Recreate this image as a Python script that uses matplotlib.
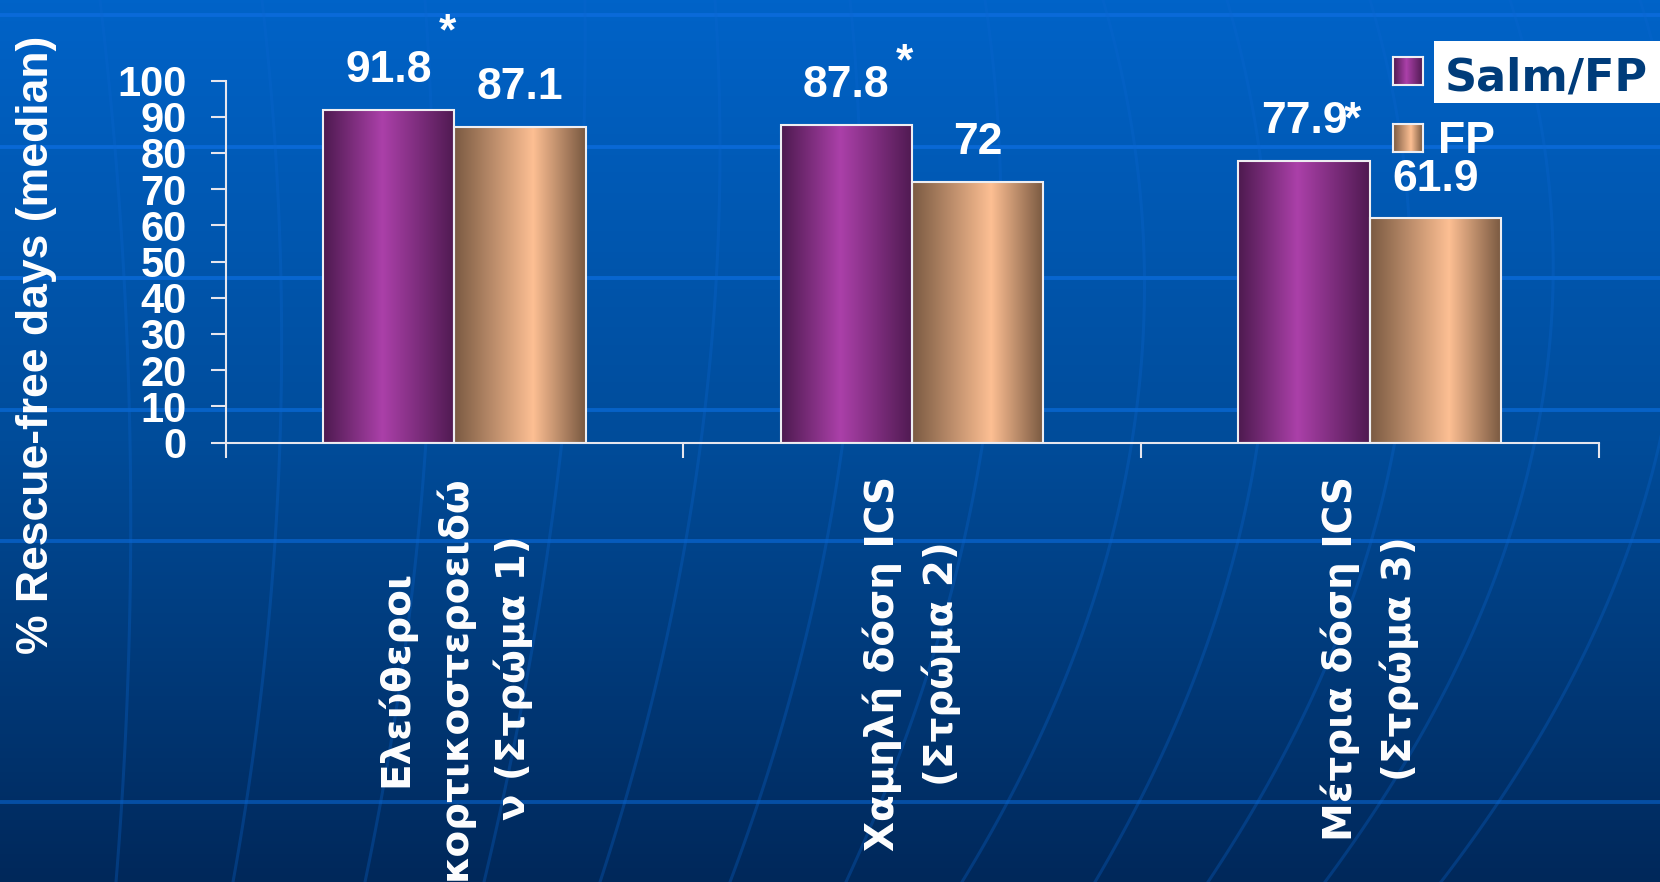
import matplotlib.pyplot as plt
import numpy as np
from matplotlib.colors import LinearSegmentedColormap
from matplotlib.patches import Rectangle

# chart data
categories = [
    "Ελεύθεροι\nκορτικοστεροειδώ\nν (Στρώμα 1)",
    "Χαμηλή δόση ICS\n(Στρώμα 2)",
    "Μέτρια δόση ICS\n(Στρώμα 3)",
]
series_names = ["Salm/FP", "FP"]
salm_fp = [91.8, 87.8, 77.9]
fp = [87.1, 72, 61.9]
y_ticks = [0, 10, 20, 30, 40, 50, 60, 70, 80, 90, 100]
y_label = "% Rescue-free days (median)"

# asterisk offsets (points) above each Salm/FP bar
star_offsets = [(42, 47), (42, 36), (35, 20)]

W, H = 1660, 882
plt.rcParams["font.family"] = ["Liberation Sans", "DejaVu Sans"]
plt.rcParams["font.weight"] = "bold"

purple_cmap = LinearSegmentedColormap.from_list(
    "salm", [(0, "#4d1a4f"), (0.45, "#ab40a9"), (1, "#4f1a51")])
tan_cmap = LinearSegmentedColormap.from_list(
    "fp", [(0, "#7a5a42"), (0.6, "#fdbf93"), (1, "#785840")])
grad = np.linspace(0, 1, 256)[None, :]

fig = plt.figure(figsize=(W / 100, H / 100), dpi=100)

# slide background: blue gradient with a faint globe grid
bg = fig.add_axes([0, 0, 1, 1], zorder=-10)
bg_cmap = LinearSegmentedColormap.from_list("bg", ["#0063c8", "#004c9a", "#00285a"])
bg.imshow(np.linspace(0, 1, 256)[:, None], cmap=bg_cmap,
          extent=[0, W, H, 0], aspect="auto")
for i, y in enumerate([15, 147, 278, 410, 541, 802]):
    bg.plot([0, W], [y, y], color="#0a6ad8", lw=2.8, alpha=1 - 0.09 * i)
tops = [100, 262, 425, 585, 715, 850, 985, 1103, 1227, 1370, 1510, 1640]
mids = [130, 280, 426, 562, 701, 843, 983, 1132, 1258, 1395, 1535, 1660]
bots = [116, 233, 365, 484, 600, 730, 846, 962, 1095, 1208, 1325, 1441]
yy = np.linspace(0, H, 120)
for t, m, b in zip(tops, mids, bots):
    coef = np.polyfit([0, H / 2, H], [t, m, b], 2)
    bg.plot(np.polyval(coef, yy), yy, color="#0a66d0", lw=2.2, alpha=0.3)
bg.set_xlim(0, W)
bg.set_ylim(H, 0)
bg.axis("off")

# main chart
ax = fig.add_axes([225.5 / W, 439.5 / H, 1373 / W, 362 / H])
ax.patch.set_alpha(0)
x = np.arange(len(categories))
w = 0.287
bars1 = ax.bar(x - w / 2, salm_fp, w, facecolor="none", edgecolor="#eeeef2",
               lw=1.5, zorder=3)
bars2 = ax.bar(x + w / 2, fp, w, facecolor="none", edgecolor="#eeeef2",
               lw=1.5, zorder=3)
for bars, cmap in [(bars1, purple_cmap), (bars2, tan_cmap)]:
    for p in bars:
        ax.imshow(grad, cmap=cmap, aspect="auto", zorder=2,
                  extent=[p.get_x(), p.get_x() + p.get_width(), 0, p.get_height()])

for bars, vals in [(bars1, salm_fp), (bars2, fp)]:
    for p, v in zip(bars, vals):
        ax.annotate(f"{v:g}", (p.get_x() + p.get_width() / 2, v),
                    xytext=(0, 20), textcoords="offset points",
                    ha="center", va="baseline", fontsize=32, color="white",
                    annotation_clip=False)

for p, v, (dx, dy) in zip(bars1, salm_fp, star_offsets):
    ax.annotate("*", (p.get_x() + p.get_width() / 2, v),
                xytext=(dx, dy), textcoords="offset points",
                ha="center", va="baseline", fontsize=32, color="white",
                annotation_clip=False)

ax.set_xlim(-0.5, 2.5)
ax.set_ylim(0, 100)
for s in ["top", "right"]:
    ax.spines[s].set_visible(False)
for s in ["left", "bottom"]:
    ax.spines[s].set_color("#e6e6ee")
    ax.spines[s].set_linewidth(1.5)

ax.set_yticks(y_ticks)
ax.tick_params(axis="y", direction="out", length=11, width=1.5,
               color="#e6e6ee", labelcolor="white", labelsize=30, pad=17)

ax.set_xticks(x)
ax.set_xticklabels(categories, rotation=90, fontsize=28, color="white",
                   family="DejaVu Sans", fontweight="bold", linespacing=1.62)
ax.set_xticks([-0.5, 0.5, 1.5, 2.5], minor=True)
ax.tick_params(axis="x", which="major", length=0, pad=24)
ax.tick_params(axis="x", which="minor", direction="out", length=11,
               width=1.5, color="#e6e6ee")

fig.text(37 / W, 1 - 345 / H, y_label, rotation=90, ha="center", va="center",
         fontsize=32, color="white")

# legend
for y_top, cmap in [(57, purple_cmap), (124, tan_cmap)]:
    sax = fig.add_axes([1393 / W, 1 - (y_top + 28) / H, 30 / W, 28 / H])
    sax.imshow(grad, cmap=cmap, aspect="auto")
    sax.set_xticks([])
    sax.set_yticks([])
    for s in sax.spines.values():
        s.set_color("#eeeef2")
        s.set_linewidth(1.5)

fig.add_artist(Rectangle((1434 / W, 1 - 103 / H), (W - 1434) / W, 62 / H,
                         transform=fig.transFigure, facecolor="white",
                         edgecolor="none", zorder=5))
fig.text(1445 / W, 1 - 90 / H, series_names[0], family="DejaVu Sans",
         fontweight="bold", fontsize=32, color="#003c7a", va="baseline", zorder=6)
fig.text(1438 / W, 1 - 153 / H, series_names[1], fontsize=32, color="white",
         va="baseline")

fig.savefig("out.png", dpi=100)
